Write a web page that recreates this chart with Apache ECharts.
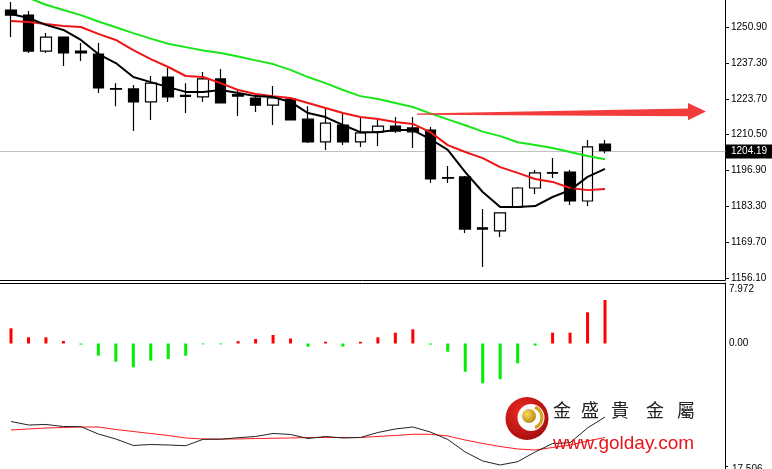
<!DOCTYPE html>
<html><head><meta charset="utf-8">
<script src="https://cdn.jsdelivr.net/npm/echarts@6/dist/echarts.min.js"></script>
<style>html,body{margin:0;padding:0;background:#fff;overflow:hidden}#c{width:772px;height:469px}</style>
</head><body><div id="c"></div>
<script>
// ---- data ----
const categories = Array.from({length: 41}, (_, i) => 'D' + (i + 1));
const opens  = [1257.3,1255.4,1241.8,1247.1,1241.8,1240.7,1227.6,1227.5,1222.6,1232.0,1225.1,1224.5,1231.3,1225.4,1224.1,1221.4,1223.7,1216.1,1207.5,1213.9,1207.5,1211.3,1213.5,1212.8,1212.0,1194.0,1194.3,1175.1,1173.9,1182.9,1190.1,1195.9,1196.1,1185.2,1206.7];
const closes = [1255.4,1241.8,1247.1,1241.1,1241.1,1227.9,1227.4,1222.6,1229.7,1224.5,1224.7,1231.3,1222.2,1224.8,1221.4,1224.1,1215.8,1207.5,1214.6,1207.5,1210.9,1213.5,1211.6,1211.3,1193.5,1193.8,1174.6,1174.6,1180.7,1190.1,1195.8,1195.7,1185.2,1205.6,1204.19];
const lows   = [1247.1,1241.1,1241.1,1236.2,1238.1,1226.0,1221.0,1211.6,1215.8,1222.6,1218.4,1222.6,1222.2,1217.3,1218.8,1213.9,1215.8,1207.1,1204.5,1206.3,1205.6,1206.0,1210.9,1205.2,1192.0,1192.0,1173.1,1160.3,1171.6,1182.9,1187.8,1193.9,1183.7,1183.3,1203.2];
const highs  = [1260.3,1256.9,1248.6,1247.1,1244.9,1244.9,1229.7,1229.0,1232.4,1235.4,1229.7,1233.9,1235.0,1227.1,1225.2,1228.6,1224.5,1221.0,1220.3,1218.4,1216.5,1215.8,1216.9,1216.9,1213.1,1198.4,1194.6,1182.2,1180.7,1190.5,1196.9,1201.4,1196.9,1208.2,1208.2];
const maFast = [1255.8,1254.3,1251.7,1249.8,1246.0,1240.7,1237.3,1232.0,1230.1,1228.2,1226.4,1226.4,1227.1,1226.0,1224.8,1224.5,1222.6,1218.4,1216.9,1213.9,1211.2,1211.2,1212.0,1212.0,1208.6,1204.5,1196.1,1188.6,1182.9,1182.9,1183.3,1186.7,1189.3,1194.3,1197.3];
const maMid  = [1253.2,1252.8,1252.0,1251.3,1250.9,1248.3,1246.0,1242.2,1238.8,1235.8,1232.4,1232.0,1229.7,1227.1,1225.6,1224.8,1224.1,1222.2,1220.3,1218.4,1216.9,1216.2,1215.0,1214.3,1211.2,1206.3,1203.7,1201.4,1198.0,1195.8,1193.5,1192.4,1190.1,1189.3,1189.7];
const maSlow = [1264.1,1261.9,1259.3,1257.3,1255.4,1253.0,1250.8,1248.6,1246.5,1244.6,1243.3,1242.0,1241.1,1239.8,1238.3,1236.9,1234.7,1232.0,1229.7,1227.1,1224.8,1223.7,1222.2,1220.7,1218.3,1216.0,1213.8,1211.4,1209.7,1207.4,1206.3,1205.2,1203.7,1202.2,1201.0];
const histValues = [2.11,0.86,0.86,0.35,-0.15,-1.69,-2.52,-3.30,-2.38,-2.15,-1.69,-0.12,-0.12,0.33,0.62,1.18,0.69,-0.44,0.24,-0.44,0.24,0.86,1.50,1.97,-0.15,-1.14,-3.91,-5.52,-4.96,-2.75,-0.28,1.50,1.50,4.33,6.03];
const oscMain   = [39.76,38.01,38.26,37.26,37.16,33.51,31.01,27.76,28.26,28.01,27.66,30.86,30.86,31.66,32.26,33.76,33.26,31.26,32.26,31.51,31.76,34.26,36.01,37.01,34.51,30.76,24.51,20.01,18.01,19.66,24.51,28.76,29.16,36.51,42.01];
const oscSignal = [35.51,36.01,36.51,36.76,37.01,37.01,35.76,34.76,33.76,32.76,31.51,31.01,31.01,31.01,31.26,31.36,31.51,31.76,31.76,31.76,31.76,32.26,32.76,33.36,33.36,32.51,30.51,28.76,27.26,26.01,25.51,26.76,28.01,30.01,31.76];
const priceTicks = [1156.10,1169.70,1183.30,1196.90,1210.50,1223.70,1237.30,1250.90];
const histTicks = [0, 7.972];
const oscTicks = [17.506];

// ---- chart ----
const FONT = "'Liberation Sans', Arial, sans-serif";
const candleData = opens.map((o, i) => [o, closes[i], lows[i], highs[i]]);
const chart = echarts.init(document.getElementById('c'), null, {renderer: 'canvas'});
const gridLR = {left: 2.27, right: 53.43, containLabel: false, outerBoundsMode: 'none'};
const yOff = 6.4;

function xAx(g) {
  return {type: 'category', data: categories, gridIndex: g, show: false, boundaryGap: true};
}

chart.setOption({
  animation: false,
  backgroundColor: '#fff',
  grid: [
    Object.assign({top: 0, height: 280}, gridLR),
    Object.assign({top: 283, height: 107}, gridLR),
    Object.assign({top: 390, height: 79}, gridLR)
  ],
  xAxis: [xAx(0), xAx(1), xAx(2)],
  yAxis: [
    {type: 'value', gridIndex: 0, position: 'right', offset: yOff, min: 1155.36, max: 1261.10, scale: true,
     splitLine: {show: false},
     axisLine: {show: true, lineStyle: {color: '#000', width: 1}},
     axisTick: {show: true, customValues: priceTicks, length: 4, lineStyle: {color: '#000'}},
     axisLabel: {customValues: priceTicks, formatter: v => v.toFixed(2), color: '#000', fontSize: 10, fontFamily: FONT, margin: 6}},
    {type: 'value', gridIndex: 1, position: 'right', offset: yOff, min: -6.447, max: 8.388,
     splitLine: {show: false},
     axisLine: {show: true, lineStyle: {color: '#000', width: 1}},
     axisTick: {show: false},
     axisLabel: {customValues: histTicks, formatter: v => v > 1 ? '{d|' + v.toFixed(3) + '}' : v.toFixed(2),
       rich: {d: {padding: [7, 0, 0, 0], fontSize: 10, fontFamily: FONT, color: '#000'}},
       color: '#000', fontSize: 10, fontFamily: FONT, margin: 4}},
    {type: 'value', gridIndex: 2, position: 'right', offset: yOff, min: 16.006, max: 55.506,
     splitLine: {show: false},
     axisLine: {show: true, lineStyle: {color: '#000', width: 1}},
     axisTick: {show: true, customValues: oscTicks, length: 3, lineStyle: {color: '#000'}},
     axisLabel: {customValues: oscTicks, formatter: v => '{d|' + v.toFixed(3) + '}',
       rich: {d: {padding: [6, 0, 0, 0], fontSize: 10, fontFamily: FONT, color: '#000'}},
       color: '#000', fontSize: 10, fontFamily: FONT, margin: 7}}
  ],
  series: [
    {type: 'candlestick', xAxisIndex: 0, yAxisIndex: 0, data: candleData, barWidth: 11, z: 2,
     itemStyle: {color: '#fff', color0: '#000', borderColor: '#000', borderColor0: '#000', borderWidth: 1.2}},
    {type: 'line', xAxisIndex: 0, yAxisIndex: 0, data: maSlow, symbol: 'none', clip: true, z: 3,
     lineStyle: {color: '#19e619', width: 2}},
    {type: 'line', xAxisIndex: 0, yAxisIndex: 0, data: maMid, symbol: 'none', clip: true, z: 3,
     lineStyle: {color: '#f01414', width: 2}},
    {type: 'line', xAxisIndex: 0, yAxisIndex: 0, data: maFast, symbol: 'none', clip: true, z: 4,
     lineStyle: {color: '#000', width: 2}},
    {type: 'bar', xAxisIndex: 1, yAxisIndex: 1, data: histValues, barWidth: 3,
     itemStyle: {color: p => p.value >= 0 ? '#ff0000' : '#00ee00'}},
    {type: 'line', xAxisIndex: 2, yAxisIndex: 2, data: oscSignal, symbol: 'none', clip: true,
     lineStyle: {color: '#ff1a1a', width: 1}},
    {type: 'line', xAxisIndex: 2, yAxisIndex: 2, data: oscMain, symbol: 'none', clip: true,
     lineStyle: {color: '#222', width: 1}}
  ]
});

// decorations: price line, panel separators, arrow, watermark
const lastClose = closes[closes.length - 1];
const py = Math.round(chart.convertToPixel({yAxisIndex: 0}, lastClose)) + 0.5;
const axisX = 725.5;
chart.setOption({
  graphic: [
    {type: 'line', shape: {x1: 0, y1: py, x2: axisX, y2: py}, style: {stroke: '#c0c0c0', lineWidth: 1}, z: 1},
    {type: 'rect', shape: {x: 726, y: py - 7, width: 46, height: 14}, style: {fill: '#000'}, z: 10},
    {type: 'text', x: 731, y: py, style: {text: lastClose.toFixed(2), fill: '#fff', font: '10px ' + FONT, verticalAlign: 'middle'}, z: 11},
    {type: 'line', shape: {x1: 0, y1: 280.5, x2: axisX, y2: 280.5}, style: {stroke: '#000', lineWidth: 1}, z: 10},
    {type: 'line', shape: {x1: 0, y1: 283.5, x2: axisX, y2: 283.5}, style: {stroke: '#000', lineWidth: 1}, z: 10},
    {type: 'polygon', shape: {points: [[417,113.4],[688,108.6],[688,103],[706,111.6],[688,120.2],[688,116.2],[417,114.8]]},
     style: {fill: '#f23c3c'}, z: 10},
    {type: 'circle', shape: {cx: 527, cy: 418.5, r: 21.5}, z: 20,
     style: {fill: new echarts.graphic.RadialGradient(0.4, 0.35, 0.75, [{offset: 0, color: '#ee2a22'}, {offset: 1, color: '#a00c0c'}])}},
    {type: 'circle', shape: {cx: 531, cy: 417.5, r: 13.5}, style: {fill: '#fff'}, z: 21},
    {type: 'arc', shape: {cx: 531, cy: 417.5, r: 11, startAngle: -1.2, endAngle: 1.2}, style: {stroke: '#d6a21c', lineWidth: 3, fill: null}, z: 22},
    {type: 'circle', shape: {cx: 529, cy: 416, r: 7}, z: 23,
     style: {fill: new echarts.graphic.RadialGradient(0.35, 0.35, 0.8, [{offset: 0, color: '#f6dc5a'}, {offset: 1, color: '#b07d0c'}])}},
    {type: 'text', x: 562, y: 410, style: {text: '金', fill: '#222', font: "18px 'Noto Sans CJK TC'", align: 'center', verticalAlign: 'middle'}, z: 20},
    {type: 'text', x: 590, y: 410, style: {text: '盛', fill: '#222', font: "18px 'Noto Sans CJK TC'", align: 'center', verticalAlign: 'middle'}, z: 20},
    {type: 'text', x: 620, y: 410, style: {text: '貴', fill: '#222', font: "18px 'Noto Sans CJK TC'", align: 'center', verticalAlign: 'middle'}, z: 20},
    {type: 'text', x: 655, y: 410, style: {text: '金', fill: '#222', font: "18px 'Noto Sans CJK TC'", align: 'center', verticalAlign: 'middle'}, z: 20},
    {type: 'text', x: 686, y: 410, style: {text: '屬', fill: '#222', font: "18px 'Noto Sans CJK TC'", align: 'center', verticalAlign: 'middle'}, z: 20},
    {type: 'text', x: 553, y: 434, style: {text: 'www.golday.com', fill: '#e8141c', font: '19px ' + FONT, verticalAlign: 'alphabetic'}, z: 20}
  ]
});
</script>
</body></html>
